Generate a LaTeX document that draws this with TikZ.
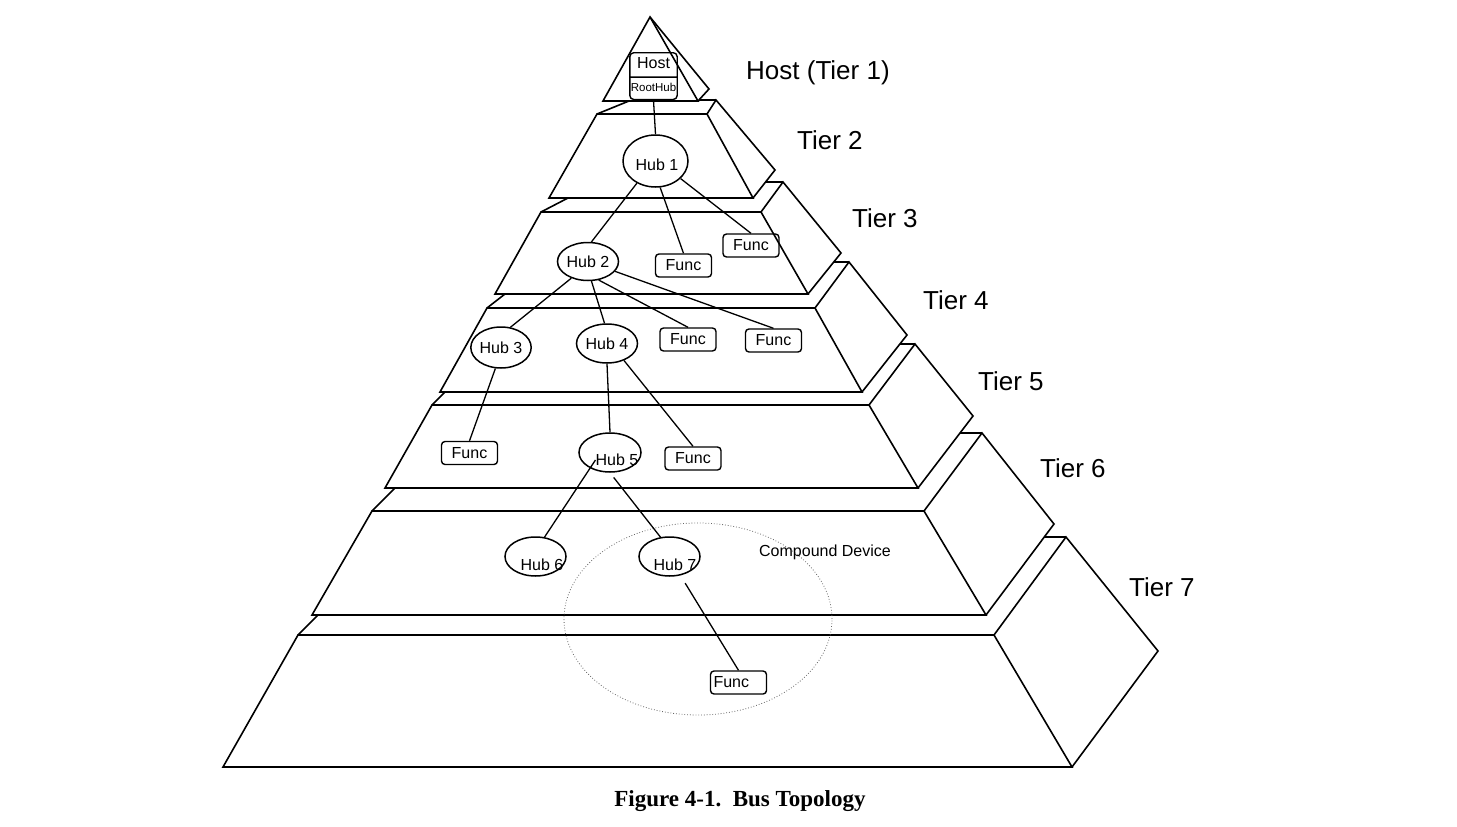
\documentclass[tikz,border=0pt]{standalone}
\usepackage{fontspec}
\setmainfont{Liberation Sans}
\newfontfamily\capfont{Liberation Serif}
\usetikzlibrary{shapes.geometric,shapes.multipart}
\begin{document}
\begin{tikzpicture}[x=1pt,y=-1pt,
  edge/.style={line width=1.6pt,line join=miter},
  link/.style={line width=1.3pt},
  hub/.style={draw,ellipse,line width=1.5pt,inner sep=0pt,minimum width=61,minimum height=38,font=\fontsize{16}{19}\selectfont},
  func/.style={draw,rounded corners=3.5pt,line width=1.4pt,inner sep=0pt,minimum width=56,minimum height=23,font=\fontsize{16}{19}\selectfont},
  hubtext/.style={inner sep=0pt,font=\fontsize{16}{19}\selectfont},
  tiertext/.style={anchor=base west,inner sep=0pt,font=\fontsize{26}{31}\selectfont}]
\useasboundingbox (0,0) rectangle (1457,827);
\draw[edge] (650,17) -- (698,101) -- (603,101) -- cycle;
\draw[edge] (650,17) -- (709,89) -- (698,101);
\draw[edge] (597,114) -- (707,114) -- (753,198) -- (549,198) -- cycle;
\draw[edge] (707,114) -- (716,100) -- (775,170) -- (753,198);
\draw[edge] (699,100) -- (716,100);
\draw[edge] (629,101) -- (597,114);
\draw[edge] (541,212) -- (761,212) -- (808,294) -- (495,294) -- cycle;
\draw[edge] (761,212) -- (783,182) -- (841,253) -- (808,294);
\draw[edge] (766,182) -- (783,182);
\draw[edge] (568,198) -- (541,212);
\draw[edge] (487,308) -- (815,308) -- (862,392) -- (440,392) -- cycle;
\draw[edge] (815,308) -- (849,262) -- (907,335) -- (862,392);
\draw[edge] (834,262) -- (849,262);
\draw[edge] (505,294) -- (487,308);
\draw[edge] (432,405) -- (869,405) -- (918,488) -- (385,488) -- cycle;
\draw[edge] (869,405) -- (915,344) -- (973,416) -- (918,488);
\draw[edge] (900,344) -- (915,344);
\draw[edge] (445,392) -- (432,405);
\draw[edge] (372,511) -- (924,511) -- (986,615) -- (312,615) -- cycle;
\draw[edge] (924,511) -- (982,433) -- (1054,524) -- (986,615);
\draw[edge] (960,433) -- (982,433);
\draw[edge] (395,488) -- (372,511);
\draw[edge] (298,635) -- (994,635) -- (1072,767) -- (223,767) -- cycle;
\draw[edge] (994,635) -- (1066,537) -- (1158,651) -- (1072,767);
\draw[edge] (1044,537) -- (1066,537);
\draw[edge] (318,615) -- (298,635);
\node[tiertext] (t1) at (746,79) {Host (Tier 1)};
\node[tiertext] (t2) at (797,149) {Tier 2};
\node[tiertext] (t3) at (852,227) {Tier 3};
\node[tiertext] (t4) at (923,309) {Tier 4};
\node[tiertext] (t5) at (978,390) {Tier 5};
\node[tiertext] (t6) at (1040,477) {Tier 6};
\node[tiertext] (t7) at (1129,596) {Tier 7};
\node[draw,rectangle split,rectangle split parts=2,rounded corners=4pt,line width=1.4pt,inner xsep=1pt,inner ysep=2pt,minimum width=47,anchor=north,font=\fontsize{16}{19}\selectfont] (host) at (653.5,52) {\strut Host\nodepart{two}\fontsize{11.5}{17}\selectfont\strut RootHub};
\node[hub,minimum width=65,minimum height=52] (hub1) at (655.5,161) {};
\node[hubtext] (hub1t) at (657,165) {Hub 1};
\node[hub] (hub2) at (588,261.5) {Hub 2};
\node[func] (func3m) at (683.5,265.5) {Func};
\node[func] (func3r) at (751,245.5) {Func};
\node[hub,minimum width=58,minimum height=41] (hub3) at (501,347.5) {Hub 3};
\node[hub,minimum height=39] (hub4) at (607,343.5) {Hub 4};
\node[func] (func4l) at (688,339.5) {Func};
\node[func] (func4r) at (773.5,340.5) {Func};
\node[func] (func5l) at (469.5,453) {Func};
\node[hub,minimum width=62,minimum height=39] (hub5) at (610,452.5) {};
\node[hubtext] (hub5t) at (617,460) {Hub 5};
\node[func] (func5r) at (693,458.5) {Func};
\node[hub,minimum height=39] (hub6) at (535.5,556.5) {};
\node[hubtext] (hub6t) at (542,565) {Hub 6};
\node[hub,minimum height=39] (hub7) at (669.5,556.5) {};
\node[hubtext] (hub7t) at (675,565) {Hub 7};
\node[func,text width=50,align=left] (func7) at (738.5,682.5) {Func};
\node[draw,dotted,black!60,line width=0.8pt,ellipse,minimum width=268,minimum height=192] (compound) at (698,619) {};
\node[hubtext,anchor=base] (cdlabel) at (825,556) {Compound Device};
\draw[link] (host.south) -- (hub1.north);
\draw[link] (hub1.230) -- (hub2.80);
\draw[link] (hub1.280) -- (func3m.north);
\draw[link] (hub1.325) -- (func3r.north);
\draw[link] (hub2.225) -- (hub3.65);
\draw[link] (hub2.280) -- (hub4.97);
\draw[link] (hub2.300) -- (func4l.north);
\draw[link] (hub2.340) -- (func4r.north);
\draw[link] (hub3.255) -- (func5l.north);
\draw[link] (hub4.south) -- (hub5.north);
\draw[link] (hub4.315) -- (func5r.north);
\draw[link] (hub5t.west) -- (hub6.65);
\draw[link,shorten <=6] (hub5.south) -- (hub7.115);
\draw[link,shorten <=9] (hub7.300) -- (func7.north);
\node[anchor=base,inner sep=0pt,font=\capfont\bfseries\fontsize{23}{28}\selectfont] (caption) at (740,806) {Figure 4-1.\ \ Bus Topology};
\end{tikzpicture}
\end{document}
